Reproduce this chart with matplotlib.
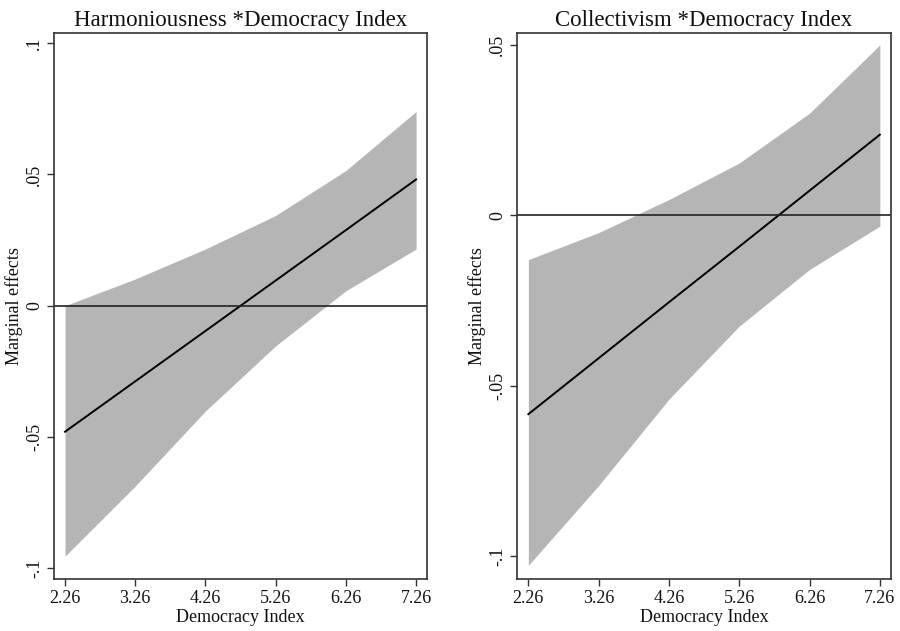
import numpy as np
import matplotlib.pyplot as plt

# data (Stata marginsplot style)

democracy = [2.26, 3.26, 4.26, 5.26, 6.26, 7.26]

harm_effect = [-0.0480, -0.0288, -0.0096, 0.0096, 0.0288, 0.0481]
harm_upper = [0.0000, 0.0102, 0.0216, 0.0344, 0.0515, 0.0740]
harm_lower = [-0.0954, -0.0687, -0.0401, -0.0153, 0.0057, 0.0216]

coll_effect = [-0.0583, -0.0419, -0.0255, -0.0092, 0.0072, 0.0236]
coll_upper = [-0.0130, -0.0051, 0.0046, 0.0153, 0.0299, 0.0499]
coll_lower = [-0.1026, -0.0792, -0.0539, -0.0325, -0.0159, -0.0032]

harm_yticks = [-0.1, -0.05, 0, 0.05, 0.1]
harm_ylabels = ["-.1", "-.05", "0", ".05", ".1"]
coll_yticks = [-0.1, -0.05, 0, 0.05]
coll_ylabels = ["-.1", "-.05", "0", ".05"]

plt.rcParams["font.family"] = ["Liberation Serif", "DejaVu Serif"]

fig = plt.figure(figsize=(9, 6.31), dpi=100)
ax1 = fig.add_axes([0.060, 0.0824, 0.4144, 0.8653])
ax2 = fig.add_axes([0.5748, 0.0824, 0.4149, 0.8653])

panels = [
    (ax1, "Harmoniousness *Democracy Index", harm_effect, harm_upper, harm_lower,
     harm_yticks, harm_ylabels, (-0.1041, 0.1039)),
    (ax2, "Collectivism *Democracy Index", coll_effect, coll_upper, coll_lower,
     coll_yticks, coll_ylabels, (-0.1066, 0.0534)),
]

for ax, title, eff, up, lo, yt, yl, ylim in panels:
    ax.fill_between(democracy, lo, up, color="#b5b5b5", linewidth=0)
    ax.plot(democracy, eff, color="black", linewidth=1.4)
    ax.axhline(0, color="#222222", linewidth=1.2)
    ax.set_xlim(2.103, 7.415)
    ax.set_ylim(*ylim)
    ax.set_xticks(democracy)
    ax.set_xticklabels([f"{d:.2f}" for d in democracy])
    ax.set_yticks(yt)
    ax.set_yticklabels(yl, rotation=90, va="center")
    ax.tick_params(direction="out", length=5, width=1.0, color="#333333",
                   labelsize=13, pad=3, labelcolor="#111111")
    for s in ax.spines.values():
        s.set_color("#333333")
        s.set_linewidth(1.2)
    ax.set_title(title, fontsize=16.5, pad=5, color="#111111")
    ax.set_xlabel("Democracy Index", fontsize=13, labelpad=1, color="#111111")
    ax.set_ylabel("Marginal effects", fontsize=13, labelpad=2, color="#111111")

fig.savefig("out.png", dpi=100)
